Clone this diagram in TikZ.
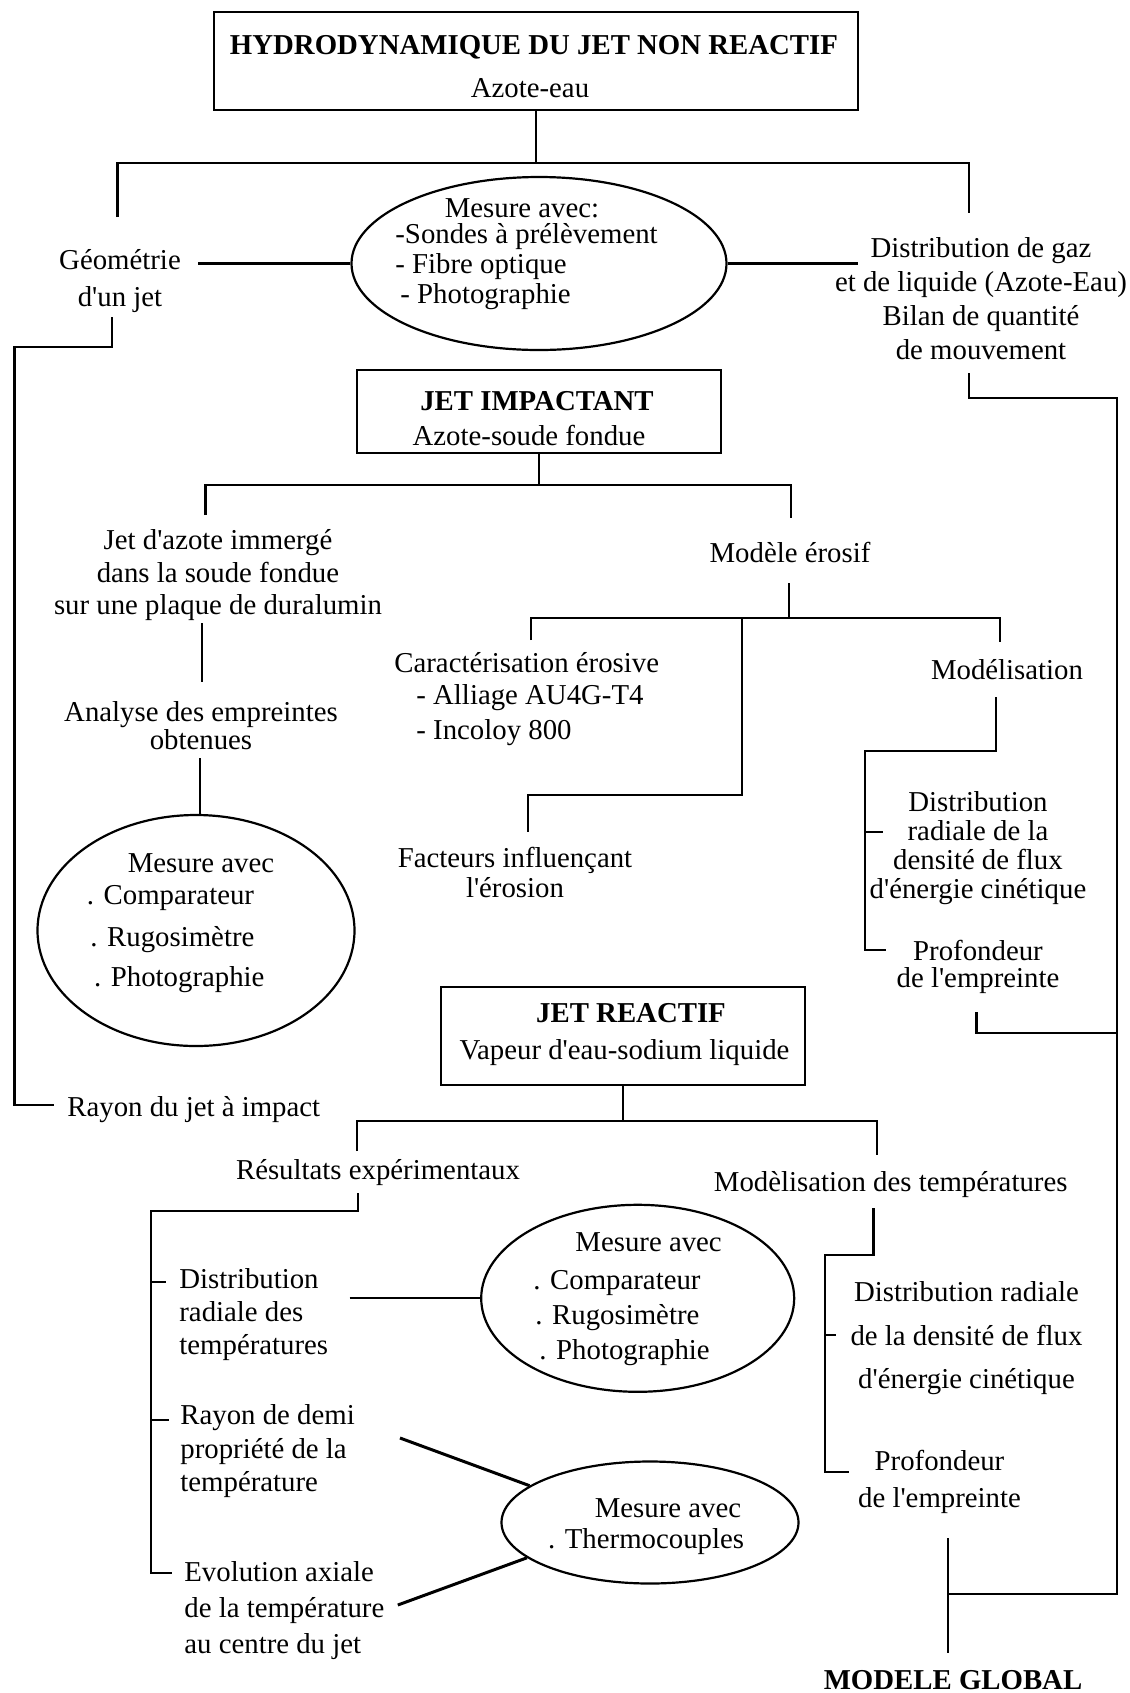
\documentclass[tikz,border=0pt]{standalone}
\usepackage{fontspec}
\setmainfont{Liberation Serif}[Ligatures=TeXOff]
\usetikzlibrary{shapes.geometric}
\newcommand{\lsp}[1]{\fontsize{14.4}{#1}\selectfont}
\begin{document}
\begin{tikzpicture}[x=0.5pt,y=-0.5pt,
  tx/.style={inner sep=0pt, align=center, font=\lsp{17}},
  lx/.style={inner sep=0pt, align=left, anchor=west, font=\lsp{17}},
  bx/.style={draw, line width=1.2pt, inner sep=0pt},
  el/.style={draw, ellipse, line width=1.1pt, inner sep=0pt},
  ln/.style={line width=1.1pt},
  ln2/.style={line width=1.5pt}]
\fill[white] (0,0) rectangle (1130,1693);
\useasboundingbox (0,0) rectangle (1130,1693);

% ---- boxes
\node[bx, minimum width=322pt, minimum height=49pt] (hyd) at (536,61) {};
\node[tx, font=\bfseries\lsp{17}] (hydT) at (534,47) {HYDRODYNAMIQUE DU JET NON REACTIF};
\node[tx] (hydS) at (530,88) {Azote-eau};

\node[bx, minimum width=182pt, minimum height=41.5pt] (ji) at (539,411.5) {};
\node[tx, font=\bfseries\lsp{17}] (jiT) at (537,401) {JET IMPACTANT};
\node[tx] (jiS) at (529,435) {Azote-soude fondue};

\node[bx, minimum width=182pt, minimum height=49pt] (jr) at (623,1036) {};
\node[tx, font=\bfseries\lsp{17}] (jrT) at (631,1013) {JET REACTIF};
\node[tx] (jrS) at (624.5,1053) {Vapeur d'eau-sodium liquide};

% ---- ellipses
\node[el, minimum width=187.5pt, minimum height=86.5pt] (e1) at (539,263.5) {};
\node[tx] (e1a) at (522,208) {Mesure avec:};
\node[lx] (e1b) at (395,237) {-Sondes à prélèvement};
\node[lx] (e1c) at (395,267) {- Fibre optique};
\node[lx] (e1d) at (400,297) {- Photographie};

\node[el, minimum width=158.5pt, minimum height=115.5pt] (e2) at (196,930.5) {};
\node[tx] (e2a) at (201,863) {Mesure avec};
\node[lx] (e2b) at (86.5,898) {. Comparateur};
\node[lx] (e2c) at (90,940) {. Rugosimètre};
\node[lx] (e2d) at (93.7,980) {. Photographie};

\node[el, minimum width=156.5pt, minimum height=93.5pt] (e3) at (637.7,1298.3) {};
\node[tx] (e3a) at (648.6,1242) {Mesure avec};
\node[lx] (e3b) at (533,1283) {. Comparateur};
\node[lx] (e3c) at (535,1318) {. Rugosimètre};
\node[lx] (e3d) at (539,1353) {. Photographie};

\node[el, minimum width=148.5pt, minimum height=61pt] (e4) at (650,1522.5) {};
\node[tx] (e4a) at (668,1508) {Mesure avec};
\node[lx] (e4b) at (547.7,1542) {. Thermocouples};

% ---- texts
\node[tx, font=\lsp{18.5}] (geo) at (120,281.5) {Géométrie\\d'un jet};
\node[tx, font=\lsp{17}] (dist) at (981,299) {Distribution de gaz\\et de liquide (Azote-Eau)\\Bilan de quantité\\de mouvement};
\node[tx, font=\lsp{16.25}] (jaz) at (218,575.5) {Jet d'azote immergé\\dans la soude fondue\\sur une plaque de duralumin};
\node[tx, font=\lsp{14}] (ana) at (201,726) {Analyse des empreintes\\obtenues};
\node[tx] (mer) at (790,552) {Modèle érosif};
\node[lx] (car) at (394,663) {Caractérisation érosive};
\node[lx, font=\lsp{17.5}] (cari) at (416,715.5) {- Alliage AU4G-T4\\- Incoloy 800};
\node[tx] (mod) at (1007,670) {Modélisation};
\node[tx, font=\lsp{15}] (fac) at (515,872) {Facteurs influençant\\l'érosion};
\node[tx, font=\lsp{14.5}] (drd) at (978,848.5) {Distribution\\radiale de la\\densité de flux\\d'énergie cinétique};
\node[tx, font=\lsp{13.5}] (pro1) at (978,966.5) {Profondeur\\de l'empreinte};
\node[lx] (ray) at (67,1110) {Rayon du jet à impact};
\node[tx] (res) at (378,1173) {Résultats expérimentaux};
\node[tx] (mdt) at (890.7,1185) {Modèlisation des températures};
\node[lx, font=\lsp{16.5}] (drt) at (179,1315) {Distribution\\radiale des\\températures};
\node[lx, font=\lsp{16.75}] (rdm) at (180,1451.5) {Rayon de demi\\propriété de la\\température};
\node[lx, font=\lsp{18}] (evo) at (184,1611) {Evolution axiale\\de la température\\au centre du jet};
\node[tx, font=\lsp{21.75}] (drb) at (966.5,1338.5) {Distribution radiale\\de la densité de flux\\d'énergie cinétique};
\node[tx, font=\lsp{18.5}] (pro2) at (939.5,1481.5) {Profondeur\\de l'empreinte};
\node[tx, font=\bfseries\lsp{17}] (glob) at (953,1680) {MODELE GLOBAL};

% ---- connectors: top tree
\coordinate (j1) at (536,163);
\coordinate (b1L) at (117.5,217);
\coordinate (b1R) at (969,213);
\draw[ln] (hyd.south) -- (j1);
\draw[ln] (b1L) -- (b1L |- j1) -- (b1R |- j1) -- (b1R);
\coordinate (g1) at (198,263.5);
\draw[ln] (g1) -- (e1.west);
\coordinate (d1) at (857.6,263.5);
\draw[ln] (e1.east) -- (d1);

% left long path
\coordinate (gA) at (111.7,317);
\coordinate (gB) at (14.4,347);
\coordinate (rA) at (54,1105);
\draw[ln] (gA) -- (gA |- gB) -- (gB) -- (gB |- rA) -- (rA);

% right long path
\coordinate (dA) at (969,373);
\coordinate (dB) at (1117,398);
\coordinate (gl) at (947.7,1594);
\draw[ln] (dA) -- (dA |- dB) -- (dB) -- (dB |- gl) -- (gl);
\coordinate (gT) at (947.7,1538);
\coordinate (gU) at (947.7,1653);
\draw[ln] (gT) -- (gU);
\coordinate (pA) at (976.5,1012);
\coordinate (pB) at (1117,1033);
\draw[ln] (pA) -- (pA |- pB) -- (pB);

% jet impactant tree
\coordinate (j2) at (539,485);
\draw[ln] (ji.south) -- (j2);
\coordinate (b2L) at (205.4,515);
\coordinate (b2R) at (790.6,518);
\draw[ln] (b2L) -- (b2L |- j2) -- (b2R |- j2) -- (b2R);
\coordinate (aA) at (201.8,623);
\coordinate (aB) at (201.8,682);
\draw[ln] (aA) -- (aB);
\coordinate (aC) at (199.6,758);
\draw[ln] (aC) -- (aC |- e2.north);

% modele erosif
\coordinate (mA) at (789,583);
\coordinate (j3) at (789,618);
\draw[ln] (mA) -- (j3);
\coordinate (b3L) at (531,640);
\coordinate (b3R) at (999.6,642);
\draw[ln] (b3L) -- (b3L |- j3) -- (b3R |- j3) -- (b3R);
\coordinate (fA) at (742,618);
\coordinate (fB) at (528,795);
\coordinate (fC) at (528,832);
\draw[ln] (fA) -- (fA |- fB) -- (fB) -- (fC);

% modelisation
\coordinate (oA) at (996,697);
\coordinate (oB) at (865,751);
\coordinate (oC) at (886,950);
\draw[ln] (oA) -- (oA |- oB) -- (oB) -- (oB |- oC) -- (oC);
\coordinate (oT) at (883,832);
\draw[ln] (oB |- oT) -- (oT);

% jet reactif tree
\coordinate (j4) at (623,1121);
\draw[ln] (jr.south) -- (j4);
\coordinate (b4L) at (356.7,1151);
\coordinate (b4R) at (877,1155);
\draw[ln] (b4L) -- (b4L |- j4) -- (b4R |- j4) -- (b4R);

% resultats
\coordinate (sA) at (358,1193);
\coordinate (sB) at (151,1211);
\coordinate (sC) at (171.5,1573);
\draw[ln] (sA) -- (sA |- sB) -- (sB) -- (sB |- sC) -- (sC);
\coordinate (sT1) at (166,1282);
\coordinate (sT2) at (169,1420);
\draw[ln] (sB |- sT1) -- (sT1);
\draw[ln] (sB |- sT2) -- (sT2);
\coordinate (tA) at (349.5,1298.3);
\draw[ln] (tA) -- (e3.west);
\coordinate (kA) at (400,1438);
\draw[ln2] (kA) -- (e4.163);
\coordinate (kB) at (397.8,1605);
\draw[ln2] (kB) -- (e4.196);

% modelisation des temperatures
\coordinate (uA) at (873.5,1208);
\coordinate (uB) at (825,1255);
\coordinate (uC) at (849,1472);
\draw[ln] (uA) -- (uA |- uB) -- (uB) -- (uB |- uC) -- (uC);
\coordinate (uT) at (836,1335);
\draw[ln] (uB |- uT) -- (uT);
\end{tikzpicture}
\end{document}
